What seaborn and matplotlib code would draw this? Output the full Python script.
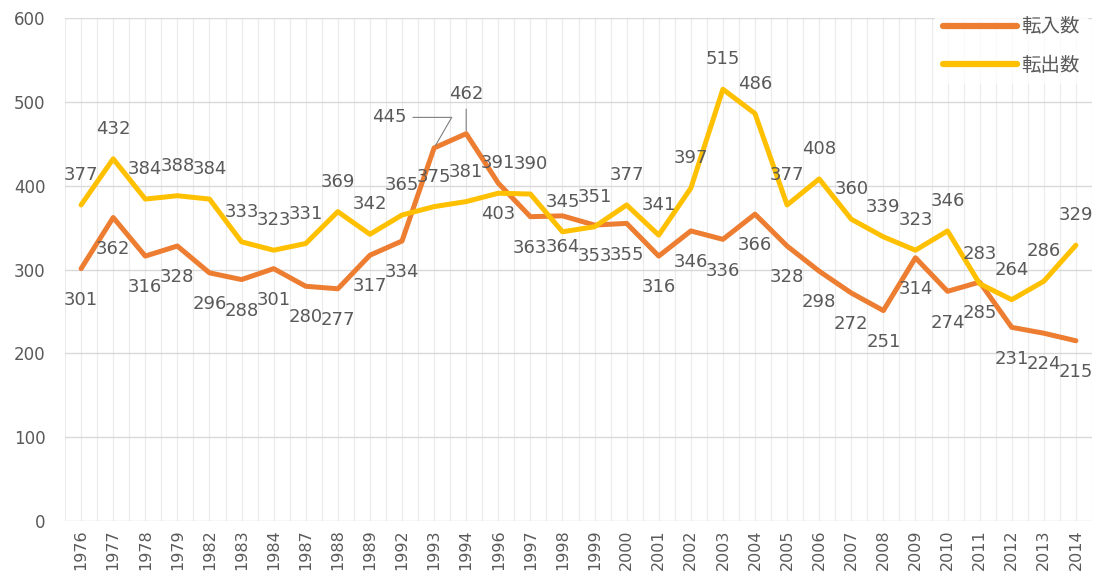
import numpy as np
import pandas as pd
import matplotlib
matplotlib.use("Agg")
import matplotlib.pyplot as plt
import seaborn as sns

sns.set_theme(style="white")
plt.rcParams['font.family'] = ['DejaVu Sans', 'Noto Sans CJK JP']

years = ['1976', '1977', '1978', '1979', '1982', '1983', '1984', '1987', '1988', '1989',
         '1992', '1993', '1994', '1996', '1997', '1998', '1999', '2000', '2001', '2002',
         '2003', '2004', '2005', '2006', '2007', '2008', '2009', '2010', '2011', '2012',
         '2013', '2014']
tennyu = [301, 362, 316, 328, 296, 288, 301, 280, 277, 317, 334, 445, 462, 403, 363, 364,
          353, 355, 316, 346, 336, 366, 328, 298, 272, 251, 314, 274, 285, 231, 224, 215]
tenshutsu = [377, 432, 384, 388, 384, 333, 323, 331, 369, 342, 365, 375, 381, 391, 390, 345,
             351, 377, 341, 397, 515, 486, 377, 408, 360, 339, 323, 346, 283, 264, 286, 329]
series_names = ['転入数', '転出数']
colors = ['#ED7D31', '#FFC000']

pos = np.arange(len(years))
df = pd.DataFrame({'pos': np.concatenate([pos, pos]),
                   'value': tennyu + tenshutsu,
                   'series': [series_names[0]] * len(years) + [series_names[1]] * len(years)})

fig = plt.figure(figsize=(10.97, 5.86), dpi=100)
ax = fig.add_axes([0.0593, 0.1109, 0.9361, 0.8584])

sns.lineplot(data=df, x='pos', y='value', hue='series', palette=colors,
             linewidth=3.6, ax=ax, legend=False)

ax.set_xlim(-0.5, len(years) - 0.5)
ax.set_ylim(0, 600)
ax.set_yticks(range(0, 601, 100))
ax.set_xticks(pos)
ax.set_xticks(np.arange(-0.5, len(years), 1.0), minor=True)
ax.set_xticklabels(years, rotation=90, fontsize=11.5, color='#595959')
ax.tick_params(axis='y', labelsize=12, colors='#595959', length=0, pad=14)
ax.tick_params(axis='x', length=0, pad=6)
ax.set_xlabel('')
ax.set_ylabel('')
ax.grid(axis='y', color='#D9D9D9', linewidth=1)
ax.grid(axis='x', which='both', color='#EBEBEB', linewidth=0.8)
ax.set_axisbelow(True)
for s in ax.spines.values():
    s.set_visible(False)

lab = dict(fontsize=13, color='#595959', ha='center')
for i, v in enumerate(tenshutsu):
    ax.annotate(str(v), (i, v), xytext=(0, 15), textcoords='offset points', va='bottom', **lab)
for i, v in enumerate(tennyu):
    if years[i] == '1993':
        ax.annotate(str(v), (i, v), xytext=(-32, 22), textcoords='offset points', va='center',
                    arrowprops=dict(arrowstyle='-', color='#7F7F7F', lw=0.8,
                                    connectionstyle='angle,angleA=0,angleB=60,rad=0'),
                    **lab)
    elif years[i] == '1994':
        ax.annotate(str(v), (i, v), xytext=(0, 22), textcoords='offset points', va='bottom',
                    arrowprops=dict(arrowstyle='-', color='#7F7F7F', lw=0.8), **lab)
    else:
        ax.annotate(str(v), (i, v), xytext=(0, -16), textcoords='offset points', va='top', **lab)

handles = [plt.Line2D([], [], color=c, linewidth=4.5) for c in colors]
leg = fig.legend(handles, series_names, loc='upper right', bbox_to_anchor=(1.0, 1.0),
                 frameon=True, fontsize=14, handlelength=3.8, labelspacing=1.0,
                 handletextpad=0.2, borderpad=0.4)
leg.get_frame().set_facecolor('white')
leg.get_frame().set_edgecolor('white')
for t in leg.get_texts():
    t.set_color('#595959')

fig.savefig('out.png', dpi=100)
